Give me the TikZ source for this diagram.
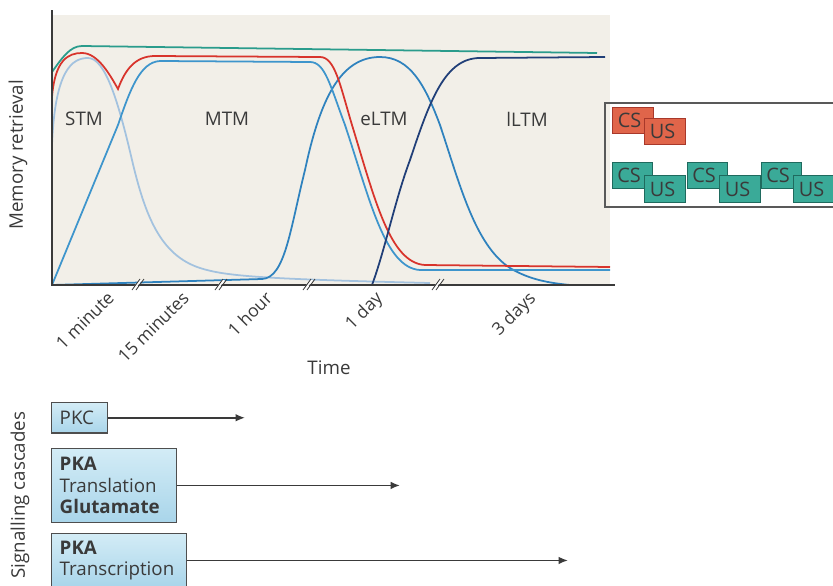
\documentclass[tikz,border=0pt]{standalone}
\usepackage{fontspec}
\setmainfont{Open Sans}
\usetikzlibrary{arrows.meta,positioning}
\definecolor{panel}{HTML}{F2EFE8}
\definecolor{crvred}{HTML}{D8342C}
\definecolor{crvteal}{HTML}{2A9C8C}
\definecolor{crvpale}{HTML}{A3C2DF}
\definecolor{crvmid}{HTML}{3E95CC}
\definecolor{crvblue}{HTML}{2F82BE}
\definecolor{crvnavy}{HTML}{213F78}
\definecolor{boxtop}{HTML}{D3ECF6}
\definecolor{boxbot}{HTML}{A9D5EA}
\definecolor{redfill}{HTML}{E0654A}
\definecolor{redline}{HTML}{A8382A}
\definecolor{tealfill}{HTML}{3AAA98}
\definecolor{tealline}{HTML}{1F6A5E}
\definecolor{txt}{HTML}{3A3A3A}
\pgfdeclarelayer{boxes}
\pgfsetlayers{boxes,main}

\begin{document}
\begin{tikzpicture}[x = 0.03cm, y = -0.03cm, font = \fontsize{16}{18.5}\selectfont, text = txt,
    curve/.style = {line width = 1.5pt},
    brk/.style = {line width = 0.7pt, draw = txt},
    tlabel/.style = {rotate = 45, anchor = north east, inner sep = 1pt, font = \fontsize{15}{17}\selectfont},
    cascade/.style = {draw = txt!90, line width = 0.9pt, top color = boxtop, bottom color = boxbot, align = left, anchor = north west, inner xsep = 7pt, inner ysep = 0pt},
    trial/.style = {minimum height = 22pt, text width = 26pt, inner xsep = 4pt, inner ysep = 0pt, align = left, font = \fontsize{17}{17}\selectfont},
    flow/.style = {draw = txt, line width = 1.4pt, -{Latex[length = 8pt, width = 6.5pt]}}]
    \useasboundingbox (0,0) rectangle (833,586);
    \fill[panel] (52,15) rectangle (610,285);
    % curves
    \draw[curve, crvpale] (52,145) .. controls (55,70) and (72,58) .. (88,58) .. controls (105,58) and (118,100) .. (132,160) .. controls (145,215) and (160,255) .. (200,268) .. controls (225,276) and (260,279) .. (430,283);
    \draw[curve, crvblue] (52,285) -- (262,279) .. controls (285,278) and (290,230) .. (305,170) .. controls (320,100) and (340,57) .. (380,57) .. controls (410,57) and (425,85) .. (440,125) .. controls (460,185) and (475,245) .. (510,268) .. controls (530,280) and (550,283) .. (570,285);
    \draw[curve, crvmid] (52,285) -- (118,125) .. controls (130,90) and (140,62) .. (160,61) -- (310,62) .. controls (325,62) and (330,85) .. (345,125) .. controls (370,200) and (385,268) .. (420,270) -- (610,270);
    \draw[curve, crvred] (52,97) .. controls (55,60) and (68,53) .. (82,53) .. controls (98,53) and (110,75) .. (118,89) .. controls (125,70) and (135,56) .. (155,56) -- (320,57) .. controls (335,57) and (340,85) .. (352,125) .. controls (375,200) and (390,263) .. (425,265) -- (610,267);
    \draw[curve, crvnavy] (372,285) .. controls (385,250) and (395,200) .. (410,160) .. controls (430,100) and (445,58) .. (480,58) -- (605,57);
    \draw[curve, crvteal] (52,72) .. controls (62,58) and (70,46) .. (82,46) -- (597,53);
    % axes
    \draw[line width = 1.1pt, txt] (52,10) -- (52,285) -- (615,285);
    \foreach \bx in {137, 220, 308, 437} {
        \fill[white] (\bx-4,288) -- (\bx+2,280) -- (\bx+5,280) -- (\bx-1,288) -- cycle;
        \draw[brk] (\bx-5,290) -- (\bx+3,279);
        \draw[brk] (\bx-1,290) -- (\bx+7,279);
    }
    \node (stm) at (84,119) {STM};
    \node (mtm) at (227,119) {MTM};
    \node (eltm) at (384,119) {eLTM};
    \node (lltm) at (527,119) {lLTM};
    \node[rotate = 90] (ylab) at (18,155) {Memory retrieval};
    \node[tlabel] (t1) at (106,288) {1 minute};
    \node[tlabel] (t2) at (181,288) {15 minutes};
    \node[tlabel] (t3) at (264,288) {1 hour};
    \node[tlabel] (t4) at (374,288) {1 day};
    \node[tlabel] (t5) at (527,288) {3 days};
    \node (time) at (329,368) {Time};
    % legend
    \draw[line width = 1.1pt, black!65] (833,103) -- (605,103) -- (605,207) -- (833,207);
    \node[trial] (cs0) at (633,120.5) {CS};
    \node[trial] (us0) at (665,131.5) {US};
    \foreach \i/\lx in {1/632.5, 2/707.5, 3/781.5} {
        \node[trial] (cs\i) at (\lx,175.5) {CS};
        \node[trial] (us\i) at (\lx+32.5,189) {US};
    }
    \begin{pgfonlayer}{boxes}
        \foreach \n/\f/\l in {cs0/redfill/redline, us0/redfill/redline, cs1/tealfill/tealline, us1/tealfill/tealline, cs2/tealfill/tealline, us2/tealfill/tealline, cs3/tealfill/tealline, us3/tealfill/tealline}
            \filldraw[fill = \f, draw = \l, line width = 0.7pt] (\n.south west) rectangle (\n.north east);
    \end{pgfonlayer}
    % signalling cascades
    \node[rotate = 90] (sig) at (20,495) {Signalling cascades};
    \node[cascade, text width = 33.6pt, minimum height = 26pt] (pkc) at (51,402) {PKC};
    \node[cascade, text width = 93pt, minimum height = 63pt] (pka1) at (51,448) {\textbf{PKA}\\Translation\\\textbf{Glutamate}};
    \node[cascade, text width = 101.6pt, minimum height = 46pt] (pka2) at (51,533) {\textbf{PKA}\\Transcription};
    \coordinate (e1) at (245,418);
    \coordinate (e2) at (400,484);
    \coordinate (e3) at (568,559);
    \draw[flow] (pkc.east) -- (pkc.east -| e1);
    \draw[flow] (pka1.east) -- (pka1.east -| e2);
    \draw[flow] (pka2.east) -- (pka2.east -| e3);
\end{tikzpicture}
\end{document}
